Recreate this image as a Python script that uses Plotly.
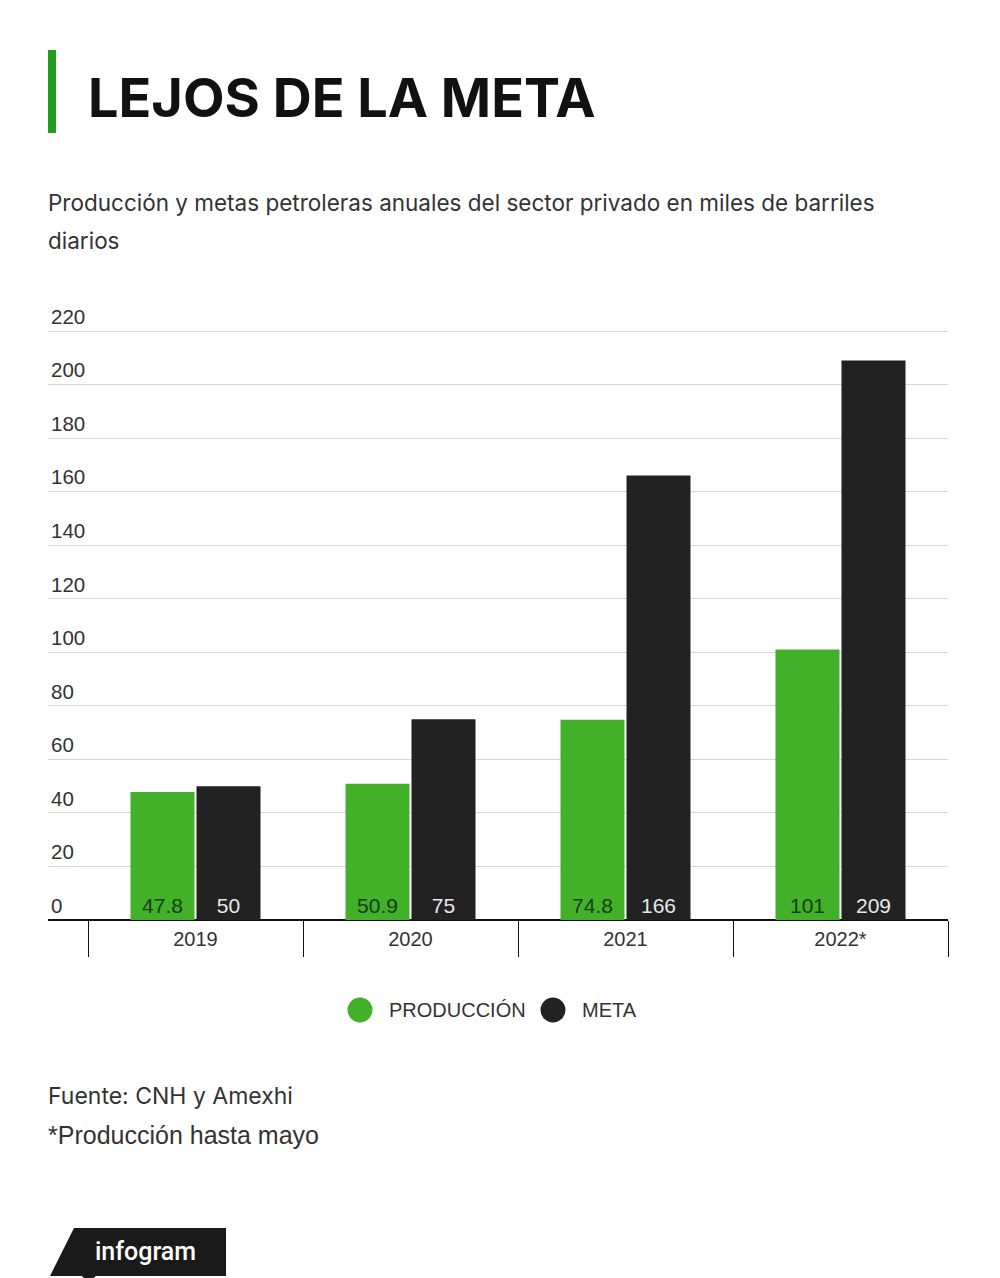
import plotly.graph_objects as go

# Data
years = ["2019", "2020", "2021", "2022*"]
produccion = [47.8, 50.9, 74.8, 101]
meta = [50, 75, 166, 209]
y_ticks = [0, 20, 40, 60, 80, 100, 120, 140, 160, 180, 200, 220]

GREEN = "#43b02a"
BLACK = "#222222"
W, H = 1000, 1278
L, R, T, B = 48, 52, 300, 358  # plot area 48..948 x 300..920
Y_ZERO, Y_220 = 920, 331          # pixel rows of 0 and 220 gridlines
y_top = 220 * (Y_ZERO - T) / (Y_ZERO - Y_220)


def px_x(x):
    return (x - L) / (W - L - R)


def px_y(y):
    return (H - B - y) / (H - T - B)


fig = go.Figure()
fig.add_trace(go.Bar(
    x=years, y=produccion, name="PRODUCCIÓN",
    marker=dict(color=GREEN, line=dict(width=0)),
    text=[f"{v:g}" for v in produccion],
    textposition="inside", insidetextanchor="start", textangle=0,
    constraintext="none",
    textfont=dict(family="Liberation Sans", size=21, color="#133f0c"),
    showlegend=False,
))
fig.add_trace(go.Bar(
    x=years, y=meta, name="META",
    marker=dict(color=BLACK, line=dict(width=0)),
    text=[f"{v:g}" for v in meta],
    textposition="inside", insidetextanchor="start", textangle=0,
    constraintext="none",
    textfont=dict(family="Liberation Sans", size=21, color="#e8e8e8"),
    showlegend=False,
))

fig.update_layout(
    width=W, height=H,
    margin=dict(l=L, r=R, t=T, b=B, pad=0),
    paper_bgcolor="white", plot_bgcolor="white",
    barmode="group", bargap=0.386, bargroupgap=0.03,
    font=dict(family="Liberation Sans", color="#333333"),
    showlegend=False,
)

fig.update_xaxes(
    type="category", range=[-0.5 - 40 / 215, 3.5],
    showgrid=False, zeroline=False, showline=False,
    ticks="outside", tickson="boundaries", ticklen=36, tickwidth=1.2,
    tickcolor="#111111", ticklabelstandoff=5,
    tickfont=dict(family="Liberation Sans", size=20, color="#333333"),
    fixedrange=True,
)
fig.update_yaxes(
    range=[0, y_top], tickvals=y_ticks,
    ticklabelposition="inside top", ticks="",
    showgrid=True, gridcolor="#d6d6d6", gridwidth=1,
    zeroline=True, zerolinecolor="#111111", zerolinewidth=2,
    showline=False,
    tickfont=dict(family="Liberation Sans", size=20.5, color="#333333"),
    fixedrange=True,
)

shapes = []
annotations = []


def note(text, x, y, size, family="Inter", color="#333333", anchor="left", weight=None):
    f = dict(family=family, size=size, color=color)
    if weight:
        f["weight"] = weight
    annotations.append(dict(xref="paper", yref="paper", x=px_x(x), y=px_y(y),
                            xanchor=anchor, yanchor="middle", showarrow=False,
                            text=text, font=f))


# green accent bar next to the title
shapes.append(dict(type="rect", xref="paper", yref="paper",
                   x0=px_x(48), x1=px_x(56), y0=px_y(133), y1=px_y(50),
                   fillcolor="#1f9e1f", line=dict(width=0)))
note("<b>LEJOS DE LA META</b>", 86, 97, 54, color="#111111", weight=900)
note("Producción y metas petroleras anuales del sector privado en miles de barriles", 46, 202, 22.5)
note("diarios", 46, 240, 22.5)

# legend
legend_items = [("PRODUCCIÓN", GREEN, 360), ("META", BLACK, 553)]
for label, color, cx in legend_items:
    shapes.append(dict(type="circle", xref="paper", yref="paper",
                       x0=px_x(cx - 12.5), x1=px_x(cx + 12.5),
                       y0=px_y(1022.5), y1=px_y(997.5),
                       fillcolor=color, line=dict(width=0)))
    note(label, cx + 27, 1010, 20, family="Liberation Sans")

# footer
note("Fuente: CNH y Amexhi", 46, 1096, 23)
note("*Producción hasta mayo", 46, 1135, 25, family="Liberation Sans")

# infogram badge
def pp(x, y):
    return f"{px_x(x)},{px_y(y)}"

shapes.append(dict(type="path", xref="paper", yref="paper",
                   path=f"M {pp(74, 1228)} L {pp(226, 1228)} L {pp(226, 1276)} "
                        f"L {pp(96, 1276)} L {pp(88, 1282)} L {pp(82, 1276)} L {pp(50, 1276)} Z",
                   fillcolor="#1a1a1a", line=dict(width=0)))
note("infogram", 145, 1251, 25, family="Roboto", color="white", anchor="center", weight=500)

fig.update_layout(shapes=shapes, annotations=annotations)

fig.write_html("out.html", config={"displayModeBar": False},
               post_script="document.body.style.margin='0';")
